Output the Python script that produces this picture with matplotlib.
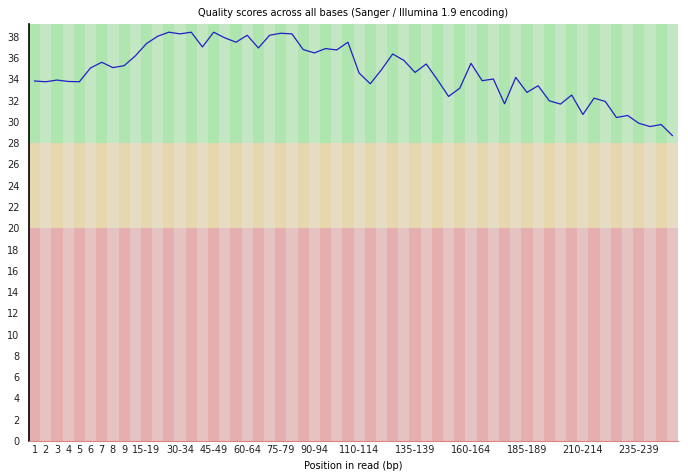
import matplotlib
matplotlib.use('Agg')
import matplotlib.pyplot as plt

# Categories (base positions / groups)
positions = [str(i) for i in range(1, 10)] + \
    ['%d-%d' % (s, s + 4) for s in range(10, 250, 5)] + ['250-251']

# Mean quality per position
mean_quality = [33.84, 33.77, 33.93, 33.80, 33.77, 35.07, 35.60, 35.10, 35.28, 36.20,
                37.36, 38.05, 38.43, 38.27, 38.43, 37.04, 38.43, 37.90, 37.49, 38.14,
                36.95, 38.14, 38.33, 38.27, 36.80, 36.48, 36.89, 36.76, 37.49, 34.59,
                33.58, 34.90, 36.38, 35.78, 34.65, 35.44, 33.96, 32.39, 33.17, 35.50,
                33.87, 34.03, 31.70, 34.18, 32.77, 33.40, 31.98, 31.67, 32.52, 30.69,
                32.23, 31.92, 30.41, 30.60, 29.87, 29.56, 29.75, 28.71]

# Labels that are shown on the x axis
shown_labels = ['1', '2', '3', '4', '5', '6', '7', '8', '9', '15-19', '30-34', '45-49',
                '60-64', '75-79', '90-94', '110-114', '135-139', '160-164', '185-189',
                '210-214', '235-239']

y_max = 39.2
bands = [(0, 20, '#e6afaf', '#e6c3c3'),
         (20, 28, '#e6d7af', '#e6dcc3'),
         (28, y_max, '#afe6af', '#c3e6c3')]

fig = plt.figure(figsize=(6.88, 4.74), dpi=100)
ax = fig.add_axes([29 / 688, 33 / 474, 649 / 688, 417 / 474])

x = list(range(len(positions)))
for lo, hi, dark, light in bands:
    colors = [dark if i % 2 == 0 else light for i in x]
    ax.bar(x, hi - lo, bottom=lo, width=1.0, color=colors, linewidth=0)

ax.plot(x, mean_quality, color='#2020c8', linewidth=0.9)

ax.set_xlim(-0.5, len(positions) - 0.5)
ax.set_ylim(0, y_max)
ax.set_yticks(range(0, 40, 2))
ax.set_xticks([positions.index(p) for p in shown_labels])
ax.set_xticklabels(shown_labels)
ax.tick_params(length=0, labelsize=7, colors='#222222')
ax.tick_params(axis='y', pad=7)
ax.tick_params(axis='x', pad=3)

for s in ['top', 'right']:
    ax.spines[s].set_visible(False)
ax.spines['left'].set_color('black')
ax.spines['left'].set_linewidth(1.2)
ax.spines['bottom'].set_color('#e08080')
ax.spines['bottom'].set_linewidth(0.8)

ax.set_title('Quality scores across all bases (Sanger / Illumina 1.9 encoding)',
             fontsize=7, pad=6)
ax.set_xlabel('Position in read (bp)', fontsize=7, labelpad=4)

fig.savefig('out.png', dpi=100)
